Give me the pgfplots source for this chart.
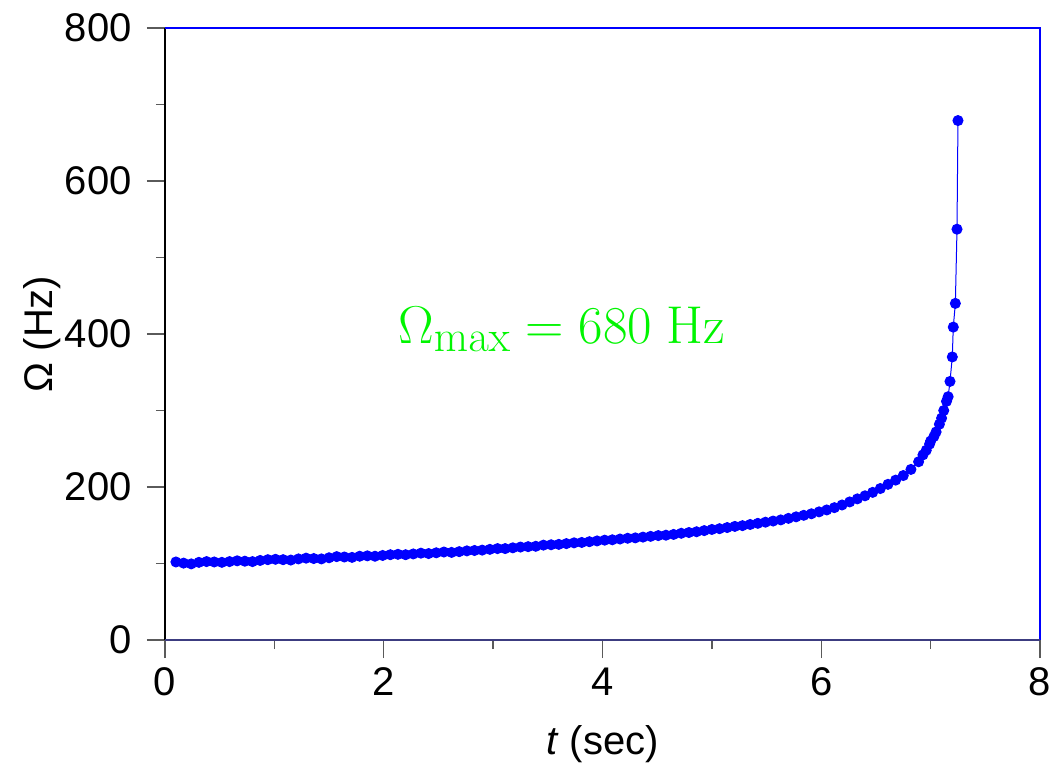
\documentclass[border=0pt]{standalone}
\usepackage{pgfplots}
\pgfplotsset{compat=1.18}
\usepackage[no-math]{fontspec}
\setmainfont{Liberation Sans}
\usetikzlibrary{calc}
\definecolor{navyline}{RGB}{60,60,128}
\definecolor{tickgray}{RGB}{90,90,90}
\definecolor{annot}{RGB}{0,245,0}
\begin{document}
\begin{tikzpicture}
\begin{axis}[
  scale only axis,
  width=437.5pt, height=306pt,
  xmin=0, xmax=8, ymin=0, ymax=800,
  xtick={0,2,4,6,8}, ytick={0,200,400,600,800},
  minor x tick num=1, minor y tick num=1,
  tick pos=left, tick align=outside,
  major tick length=9pt, minor tick length=4.5pt,
  tick style={tickgray, line width=0.7pt},
  axis line style={draw=none},
  /pgf/number format/assume math mode=true,
  ticklabel style={font=\fontsize{20}{24}\selectfont, inner sep=0pt},
  xticklabel style={anchor=base, yshift=-18.5pt},
  yticklabel style={anchor=east, xshift=-7.5pt},
  xlabel={\textit{t} (sec)},
  ylabel={Ω (Hz)},
  label style={font=\fontsize{20}{24}\selectfont, inner sep=0pt},
  xlabel style={at={(axis description cs:0.5,-0.1700)}, anchor=center},
  ylabel style={at={(axis description cs:-0.1405,0.5)}, anchor=center, rotate=0},
  clip=false,
]
\draw[black, line width=0.75pt] (rel axis cs:0,0) -- (rel axis cs:0,1);
\draw[blue, line width=0.6pt] (rel axis cs:0,1) -- (rel axis cs:1,1) -- (rel axis cs:1,0);
\draw[navyline, line width=0.9pt] (rel axis cs:0,0) -- (rel axis cs:1,0);
\addplot[blue, line width=0.5pt, mark=*, mark size=2.5pt, mark options={fill=blue, draw=blue}] coordinates {
(0.10,102) (0.17,100.5) (0.24,99.5) (0.31,101.5) (0.38,102.5) (0.45,102) (0.52,101.5) (0.59,102.5) (0.66,103.5) (0.73,103)
(0.80,102.5) (0.87,104) (0.94,105) (1.01,105.5) (1.08,105) (1.15,104.5) (1.22,106) (1.29,107) (1.36,106.5) (1.43,106)
(1.50,107.5) (1.57,109) (1.64,108.5) (1.71,108) (1.78,109.5) (1.85,110) (1.92,109.5) (1.99,110.5) (2.06,111.5) (2.13,112)
(2.20,111.5) (2.27,112.5) (2.34,113.5) (2.41,113) (2.48,114) (2.55,115) (2.62,114.5) (2.69,115.5) (2.76,116.5) (2.83,117)
(2.90,117.5) (2.97,118.5) (3.04,119.5) (3.11,119.5) (3.18,120.5) (3.25,121.5) (3.32,122) (3.39,122.5) (3.46,124) (3.53,124.5)
(3.60,125) (3.67,126) (3.74,127) (3.81,127.5) (3.88,128.5) (3.95,129.5) (4.02,130.5) (4.09,131) (4.16,132) (4.23,133)
(4.30,133.5) (4.37,134.5) (4.44,135.5) (4.51,136.5) (4.58,137) (4.65,138) (4.72,139.5) (4.79,140.5) (4.86,141.5) (4.93,143)
(5.00,144.5) (5.07,145.5) (5.14,147) (5.21,148.5) (5.28,149.5) (5.35,151) (5.42,152.5) (5.49,154) (5.56,155.5) (5.63,157)
(5.70,159) (5.77,161) (5.84,163) (5.91,165) (5.98,167.5) (6.05,170) (6.12,173) (6.19,176.5) (6.26,180.5) (6.33,184.5)
(6.40,188.5) (6.47,193) (6.54,198) (6.61,203.5) (6.68,209) (6.75,215) (6.82,223) (6.89,233) (6.93,242) (6.96,248)
(6.99,256) (7.00,260) (7.03,266) (7.05,272) (7.08,282) (7.10,290) (7.12,300) (7.145,312) (7.16,318) (7.177,338)
(7.198,370) (7.207,409) (7.226,440) (7.241,537) (7.250,679)
};
\node[anchor=base west, inner sep=0pt, text=annot, font=\Huge, scale=1.07, transform shape] at (axis cs:2.13,388) {$\Omega_{\max} = 680\ \mathrm{Hz}$};
\end{axis}
\pgfresetboundingbox
\path ($(current axis.south west)+(-82.5pt,-62pt)$) rectangle ($(current axis.north east)+(6pt,14pt)$);
\end{tikzpicture}
\end{document}
